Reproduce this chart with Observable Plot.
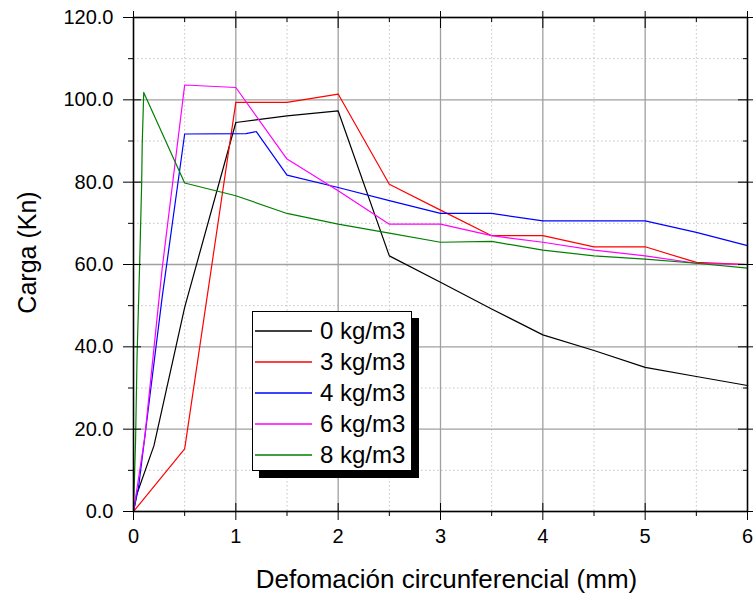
<!DOCTYPE html>
<html>
<head>
<meta charset="utf-8">
<script src="https://cdn.jsdelivr.net/npm/d3@7"></script>
<script src="https://cdn.jsdelivr.net/npm/@observablehq/plot@0.6"></script>
<style>
  body { margin: 0; background: #fff; }
  #wrap { position: relative; width: 753px; height: 594px; font-family: "Liberation Sans", Arial, sans-serif; }
  #legend { position: absolute; left: 252px; top: 311px; width: 160px; height: 160px;
    border: 1.5px solid #000; background: #fff; box-shadow: 7px 7px 0 #000; box-sizing: border-box; }
  .row { position: absolute; left: 0; height: 30px; display: flex; align-items: center; }
  .row svg { margin-left: 2px; }
  .row span { margin-left: 8px; font-size: 24px; color: #000; white-space: nowrap; }
</style>
</head>
<body>
<div id="wrap"></div>
<script>
// ---- data ----
const seriesNames = ["0 kg/m3", "3 kg/m3", "4 kg/m3", "6 kg/m3", "8 kg/m3"];
const seriesColors = ["#000000", "#ff0000", "#0000ff", "#ff00ff", "#008000"];

const x0 = [0, 0.03, 0.2, 0.5, 1, 1.5, 2, 2.5, 3, 3.5, 4, 4.5, 5, 5.5, 6];
const y0 = [0, 4, 16, 49.6, 94.5, 96.1, 97.3, 62.1, 55.7, 49.2, 42.9, 39.1, 35.0, 32.8, 30.6];

const x3 = [0, 0.5, 1, 1.5, 2, 2.5, 3, 3.5, 4, 4.5, 5, 5.5, 6];
const y3 = [0, 15.2, 99.4, 99.4, 101.4, 79.5, 73.2, 67.0, 67.0, 64.3, 64.3, 60.5, 60.0];

const x4 = [0, 0.05, 0.28, 0.5, 1.1, 1.2, 1.5, 2, 2.5, 3, 3.5, 4, 4.5, 5, 5.5, 6];
const y4 = [0, 6, 52, 91.7, 91.8, 92.3, 81.7, 78.7, 75.5, 72.4, 72.4, 70.6, 70.6, 70.6, 67.8, 64.6];

const x6 = [0, 0.11, 0.28, 0.5, 1, 1.5, 2, 2.5, 3, 3.5, 4, 4.5, 5, 5.5, 6];
const y6 = [0, 18, 59, 103.6, 103.0, 85.6, 77.9, 69.8, 69.8, 67.0, 65.4, 63.5, 62.1, 60.3, 60.0];

const x8 = [0, 0.02, 0.035, 0.06, 0.08, 0.085, 0.1, 0.5, 1, 1.5, 2, 2.5, 3, 3.5, 4, 4.5, 5, 5.5, 6];
const y8 = [0, 17, 38, 60, 80, 89, 101.8, 79.8, 76.7, 72.4, 69.8, 67.6, 65.4, 65.6, 63.5, 62.1, 61.3, 60.3, 59.1];

const xMajor = [0, 1, 2, 3, 4, 5, 6];
const xMinor = [0.5, 1.5, 2.5, 3.5, 4.5, 5.5];
const yMajor = [0, 20, 40, 60, 80, 100, 120];
const yMinor = [10, 30, 50, 70, 90, 110];

const xTitle = "Defomación circunferencial (mm)";
const yTitle = "Carga (Kn)";

// ---- build table ----
const seriesX = [x0, x3, x4, x6, x8];
const seriesY = [y0, y3, y4, y6, y8];
const rows = [];
seriesNames.forEach((name, i) => {
  seriesX[i].forEach((x, j) => rows.push({series: name, x, y: seriesY[i][j]}));
});

const font = '"Liberation Sans", Arial, sans-serif';

const chart = Plot.plot({
  width: 753,
  height: 594,
  marginLeft: 133,
  marginRight: 6,
  marginTop: 17,
  marginBottom: 83,
  style: {fontFamily: font, background: "#fff", color: "#000"},
  x: {domain: [0, 6]},
  y: {domain: [0, 120]},
  color: {domain: seriesNames, range: seriesColors},
  marks: [
    Plot.gridX(xMinor, {stroke: "#c4c4c4", strokeOpacity: 1, strokeDasharray: "1.5,2.5"}),
    Plot.gridY(yMinor, {stroke: "#c4c4c4", strokeOpacity: 1, strokeDasharray: "1.5,2.5"}),
    Plot.gridX(xMajor, {stroke: "#a0a0a0", strokeOpacity: 1, strokeWidth: 1.3}),
    Plot.gridY(yMajor, {stroke: "#a0a0a0", strokeOpacity: 1, strokeWidth: 1.3}),
    Plot.line(rows, {x: "x", y: "y", z: "series", stroke: "series", strokeWidth: 1.2}),
    Plot.frame({stroke: "#000", strokeWidth: 1.5}),
    // bottom axis
    Plot.axisX(xMajor, {anchor: "bottom", tickSize: 17, insetBottom: 8, fill: "none", label: null}),
    Plot.axisX(xMinor, {anchor: "bottom", tickSize: 5, fill: "none", label: null}),
    Plot.axisX(xMajor, {anchor: "bottom", tickSize: 0, tickPadding: 17, fontSize: 20, label: null, tickFormat: d => String(d)}),
    // top axis
    Plot.axisX(xMajor, {anchor: "top", tickSize: 17, insetTop: 10, fill: "none", label: null}),
    Plot.axisX(xMinor, {anchor: "top", tickSize: 4, insetTop: 4, fill: "none", label: null}),
    // left axis
    Plot.axisY(yMajor, {anchor: "left", tickSize: 18, insetLeft: 8, fill: "none", label: null}),
    Plot.axisY(yMinor, {anchor: "left", tickSize: 5, fill: "none", label: null}),
    Plot.axisY(yMajor, {anchor: "left", tickSize: 0, tickPadding: 20, fontSize: 20, label: null, tickFormat: d3.format(".1f")}),
    // right axis
    Plot.axisY(yMajor, {anchor: "right", tickSize: 16, insetRight: 10, fill: "none", label: null}),
    Plot.axisY(yMinor, {anchor: "right", tickSize: 5, insetRight: 5, fill: "none", label: null}),
    // titles
    Plot.text([xTitle], {text: d => d, frameAnchor: "bottom", textAnchor: "middle", lineAnchor: "middle", dx: 6, dy: 68, fontSize: 26, fill: "#000"}),
    Plot.text([yTitle], {text: d => d, frameAnchor: "left", textAnchor: "middle", lineAnchor: "middle", dx: -106, dy: -12, rotate: -90, fontSize: 25, fill: "#000"})
  ]
});

const wrap = document.getElementById("wrap");
wrap.appendChild(chart);

// legend
const legend = document.createElement("div");
legend.id = "legend";
const rowCenters = [18.5, 49.5, 80.5, 111.5, 142.5];
seriesNames.forEach((name, i) => {
  const r = document.createElement("div");
  r.className = "row";
  r.style.top = (rowCenters[i] - 15) + "px";
  r.innerHTML = `<svg width="57" height="4"><line x1="0" x2="57" y1="2" y2="2" stroke="${seriesColors[i]}" stroke-width="1.5"/></svg><span>${name}</span>`;
  legend.appendChild(r);
});
wrap.appendChild(legend);
</script>
</body>
</html>
